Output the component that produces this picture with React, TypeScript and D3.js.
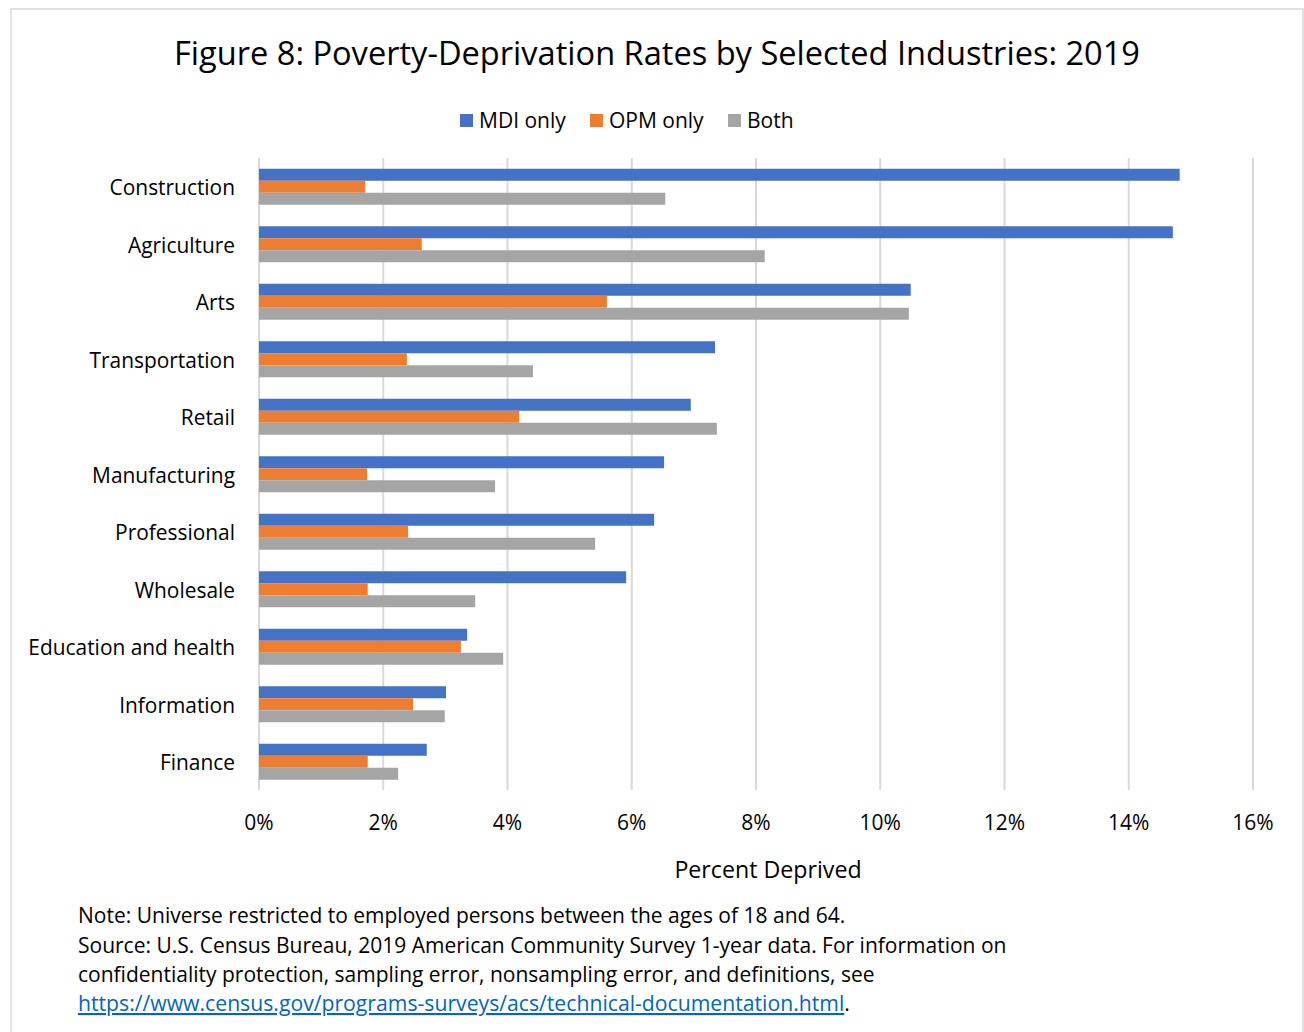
import React from "react";
import * as d3 from "d3";

const categories = ["Construction","Agriculture","Arts","Transportation","Retail","Manufacturing","Professional","Wholesale","Education and health","Information","Finance"];
const mdiOnly = [14.82,14.71,10.49,7.34,6.95,6.52,6.36,5.91,3.35,3.01,2.70];
const opmOnly = [1.71,2.62,5.60,2.38,4.19,1.74,2.40,1.75,3.25,2.48,1.75];
const both = [6.54,8.14,10.46,4.41,7.37,3.80,5.41,3.48,3.93,2.99,2.24];
const seriesNames = ["MDI only","OPM only","Both"];
const seriesColors = ["#4472C4","#ED7D31","#A5A5A5"];
const xTicks = [0,2,4,6,8,10,12,14,16];

const W = 1304, H = 1032;
const FONT = "'Open Sans', sans-serif";

export default function App() {
  const x = d3.scaleLinear().domain([0,16]).range([259,1253]);
  const y = d3.scaleBand().domain(categories).range([158,790.5]).paddingInner(0.374).paddingOuter(0.187);
  const inner = d3.scaleBand().domain(seriesNames).range([0,y.bandwidth()]);
  const series = [mdiOnly, opmOnly, both];
  const legendX = [460,590,728];
  return (
    <svg width={W} height={H} style={{position:"absolute",left:0,top:0,background:"#fff"}} fontFamily={FONT}>
      <rect x={11} y={9} width={1292} height={1040} fill="#fff" stroke="#d9d9d9" strokeWidth={1.5}/>
      <text x={657} y={65} textAnchor="middle" fontSize={32.6} fill="#000">Figure 8: Poverty-Deprivation Rates by Selected Industries: 2019</text>
      {seriesNames.map((n,i)=>(
        <g key={n}>
          <rect x={legendX[i]} y={114} width={13} height={13} fill={seriesColors[i]}/>
          <text x={legendX[i]+19} y={128} fontSize={21} fill="#000">{n}</text>
        </g>
      ))}
      {xTicks.map(t=>(
        <line key={t} x1={x(t)} x2={x(t)} y1={158} y2={790} stroke="#d9d9d9" strokeWidth={2}/>
      ))}
      {categories.map((c,ci)=>(
        <g key={c}>
          {series.map((s,si)=>(
            <rect key={si} x={x(0)} y={(y(c) as number)+(inner(seriesNames[si]) as number)} width={x(s[ci])-x(0)} height={inner.bandwidth()} fill={seriesColors[si]}/>
          ))}
          <text x={235} y={(y(c) as number)+y.bandwidth()/2+1} dy="0.35em" textAnchor="end" fontSize={20.9} fill="#000">{c}</text>
        </g>
      ))}
      {xTicks.map(t=>(
        <text key={t} x={x(t)} y={830} textAnchor="middle" fontSize={21} fill="#000">{t}%</text>
      ))}
      <text x={768} y={878} textAnchor="middle" fontSize={23.2} fill="#000">Percent Deprived</text>
      <g fontSize={21} fill="#000">
        <text x={78} y={923}>Note: Universe restricted to employed persons between the ages of 18 and 64.</text>
        <text x={78} y={953}>Source: U.S. Census Bureau, 2019 American Community Survey 1-year data. For information on</text>
        <text x={78} y={982}>confidentiality protection, sampling error, nonsampling error, and definitions, see</text>
        <text x={78} y={1011}><tspan fill="#0563C1" textDecoration="underline" fontSize={21.2}>https://www.census.gov/programs-surveys/acs/technical-documentation.html</tspan>.</text>
      </g>
    </svg>
  );
}
